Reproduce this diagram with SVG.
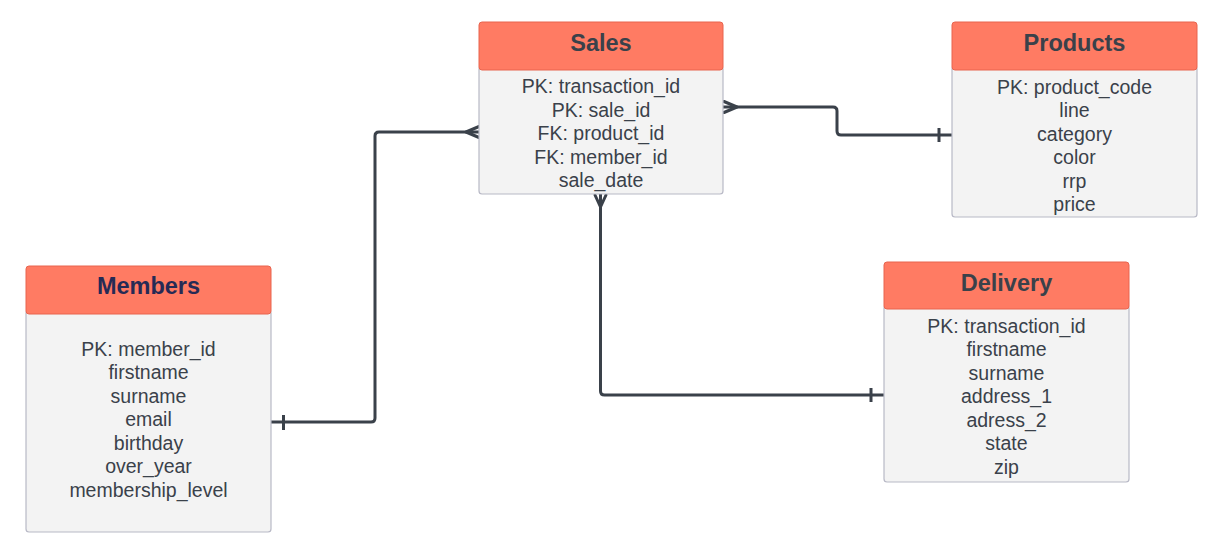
<svg xmlns="http://www.w3.org/2000/svg" width="1207" height="551" viewBox="0 0 1207 551">
<style>
.hdr{fill:#ff7b63;stroke:#e8654f;stroke-width:1}
.body{fill:#f3f3f3;stroke:#b8b9c6;stroke-width:1.2}
.title{font-family:"Liberation Sans",Arial,sans-serif;font-size:23.5px;font-weight:bold;fill:#3a414a;text-anchor:middle}
.row{font-family:"Liberation Sans",Arial,sans-serif;font-size:19.5px;fill:#3a414a;text-anchor:middle}
.conn{fill:none;stroke:#3a414a;stroke-width:3;stroke-linejoin:round;stroke-linecap:butt}
.crow{fill:none;stroke:#3a414a;stroke-width:3;stroke-linecap:round}
</style>
<rect width="1207" height="551" fill="#ffffff"/>

<g id="connectors">
  <!-- Members - Sales -->
  <path class="conn" d="M271,422 H371 Q375,422 375,418 V136 Q375,132 379,132 H479"/>
  <path class="crow" d="M466,132 L479,126.5 M466,132 L479,137.5"/>
  <path class="conn" d="M283.5,415 V430"/>
  <!-- Sales - Products -->
  <path class="conn" d="M723,107 H833 Q837,107 837,111 V131 Q837,135 841,135 H952"/>
  <path class="crow" d="M737,107 L724,101.5 M737,107 L724,112.5"/>
  <path class="conn" d="M939,128 V142"/>
  <!-- Sales - Delivery -->
  <path class="conn" d="M600.5,194 V391 Q600.5,395 604.5,395 H884"/>
  <path class="crow" d="M600.5,207 L595,195 M600.5,207 L606,195"/>
  <path class="conn" d="M871,388 V402"/>
</g>

<g id="sales">
  <rect class="body" x="479" y="66" width="244" height="128" rx="3"/>
  <rect class="hdr" x="479" y="22" width="244" height="48" rx="3"/>
  <text class="title" x="601" y="51">Sales</text>
  <text class="row" x="601" y="93">PK: transaction_id</text>
  <text class="row" x="601" y="116.5">PK: sale_id</text>
  <text class="row" x="601" y="140">FK: product_id</text>
  <text class="row" x="601" y="163.5">FK: member_id</text>
  <text class="row" x="601" y="187">sale_date</text>
</g>

<g id="products">
  <rect class="body" x="952" y="66" width="245" height="151" rx="3"/>
  <rect class="hdr" x="952" y="22" width="245" height="48" rx="3"/>
  <text class="title" x="1074.5" y="51">Products</text>
  <text class="row" x="1074.5" y="93.5">PK: product_code</text>
  <text class="row" x="1074.5" y="117">line</text>
  <text class="row" x="1074.5" y="140.5">category</text>
  <text class="row" x="1074.5" y="164">color</text>
  <text class="row" x="1074.5" y="187.5">rrp</text>
  <text class="row" x="1074.5" y="211">price</text>
</g>

<g id="members">
  <rect class="body" x="26" y="310" width="245" height="222" rx="3"/>
  <rect class="hdr" x="26" y="266" width="245" height="48" rx="3"/>
  <text class="title" x="148.5" y="293.5" style="fill:#262a55">Members</text>
  <text class="row" x="148.5" y="355.5">PK: member_id</text>
  <text class="row" x="148.5" y="379">firstname</text>
  <text class="row" x="148.5" y="402.5">surname</text>
  <text class="row" x="148.5" y="426">email</text>
  <text class="row" x="148.5" y="449.5">birthday</text>
  <text class="row" x="148.5" y="473">over_year</text>
  <text class="row" x="148.5" y="496.5">membership_level</text>
</g>

<g id="delivery">
  <rect class="body" x="884" y="305" width="245" height="177" rx="3"/>
  <rect class="hdr" x="884" y="262" width="245" height="47" rx="3"/>
  <text class="title" x="1006.5" y="290.5">Delivery</text>
  <text class="row" x="1006.5" y="332.5">PK: transaction_id</text>
  <text class="row" x="1006.5" y="356">firstname</text>
  <text class="row" x="1006.5" y="379.5">surname</text>
  <text class="row" x="1006.5" y="403">address_1</text>
  <text class="row" x="1006.5" y="426.5">adress_2</text>
  <text class="row" x="1006.5" y="450">state</text>
  <text class="row" x="1006.5" y="473.5">zip</text>
</g>
</svg>
